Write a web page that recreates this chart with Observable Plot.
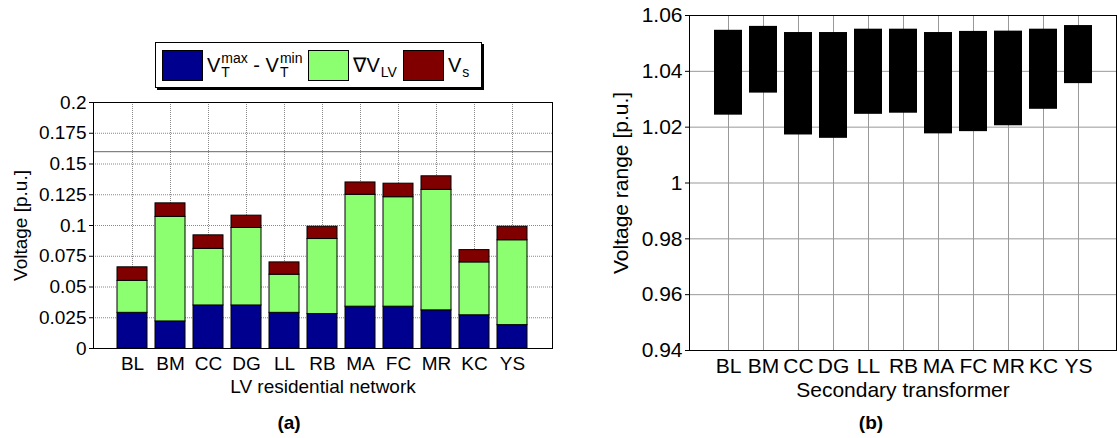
<!DOCTYPE html>
<html><head><meta charset="utf-8">
<script src="https://cdn.jsdelivr.net/npm/d3@7"></script>
<script src="https://cdn.jsdelivr.net/npm/@observablehq/plot@0.6"></script>
<style>
body{margin:0;background:#fff;font-family:"Liberation Sans",Arial,sans-serif;}
#wrap{position:relative;width:1117px;height:438px;overflow:hidden;background:#fff}
#left,#right{position:absolute;top:0}
#left{left:0}
#right{left:560px}
#legend{position:absolute;left:155px;top:42px;height:44px;border:1px solid #000;box-shadow:2px 2px 0 #000;background:#fff;display:flex;align-items:center;padding:0 6px 0 6px;font-size:20px;color:#000;white-space:nowrap}
.sw{display:inline-block;width:39px;height:29px;border:1px solid #000;margin-right:4px}
.it{display:inline-flex;align-items:center;margin-right:6px}
.st{display:inline-flex;flex-direction:column;font-size:14px;line-height:14px;margin-left:1px}
.sub{font-size:14px;position:relative;top:7px;margin-left:1px}
.cap{position:absolute;font-weight:bold;font-size:19px;transform:translateX(-50%)}
</style></head>
<body>
<div id="wrap">
  <div id="left"></div>
  <div id="right"></div>
  <div id="legend"></div>
  <div class="cap" id="capa" style="left:289px;top:412px">(a)</div>
  <div class="cap" id="capb" style="left:871px;top:412px">(b)</div>
</div>
<script>
// ---- data ----
const networks = ["BL","BM","CC","DG","LL","RB","MA","FC","MR","KC","YS"];
// (a) stacked components [p.u.]
const vtRange = [0.029,0.022,0.035,0.035,0.029,0.028,0.034,0.034,0.031,0.027,0.019];
const dvLV    = [0.026,0.085,0.046,0.063,0.031,0.061,0.091,0.089,0.098,0.043,0.069];
const vs      = [0.011,0.011,0.011,0.010,0.010,0.010,0.010,0.011,0.011,0.010,0.011];
const components = ["VT", "dVLV", "Vs"];
const componentColors = ["#00008f", "#8cff70", "#800000"];
const leftTicks = [0,0.025,0.05,0.075,0.1,0.125,0.15,0.175,0.2];
const limitLine = [0.16];
// (b) secondary transformer voltage range [p.u.]
const vMax = [1.0547,1.0561,1.0539,1.0539,1.0551,1.0551,1.0539,1.0543,1.0544,1.0551,1.0564];
const vMin = [1.0243,1.0322,1.0172,1.0160,1.0246,1.0250,1.0176,1.0184,1.0205,1.0264,1.0356];
const rightTicks = [0.94,0.96,0.98,1,1.02,1.04,1.06];

// ---- (a) ----
const rows = [];
networks.forEach((n,i)=>{
  rows.push({network:n, component:"VT", value:vtRange[i]});
  rows.push({network:n, component:"dVLV", value:dvLV[i]});
  rows.push({network:n, component:"Vs", value:vs[i]});
});
const fmt = d => String(+d.toFixed(3));
const left = Plot.plot({
  width:560, height:438,
  marginLeft:93, marginRight:8, marginTop:102, marginBottom:90,
  style:{fontFamily:'"Liberation Sans",Arial,sans-serif', fontSize:"19px", color:"#000", background:"transparent"},
  x:{domain:networks, paddingInner:0.2, paddingOuter:0.6},
  y:{domain:[0,0.2]},
  color:{domain:components, range:componentColors},
  marks:[
    Plot.gridX(networks,{stroke:"#888", strokeOpacity:1, strokeDasharray:"1,1"}),
    Plot.gridY(leftTicks,{stroke:"#888", strokeOpacity:1, strokeDasharray:"1,1"}),
    Plot.ruleY(limitLine,{stroke:"#666", strokeWidth:1}),
    Plot.barY(rows,{x:"network", y:"value", fill:"component", stroke:"#000", strokeWidth:1}),
    Plot.axisX({tickSize:0, tickPadding:8, label:"LV residential network", labelAnchor:"center", labelArrow:"none", labelOffset:44}),
    Plot.axisY({ticks:leftTicks, tickFormat:fmt, tickSize:4, tickPadding:3, label:"Voltage [p.u.]", labelAnchor:"center", labelArrow:"none", labelOffset:80}),
    Plot.frame({stroke:"#000"})
  ]
});
document.getElementById("left").appendChild(left);

// ---- (b) ----
const rb = networks.map((n,i)=>({network:n, lo:vMin[i], hi:vMax[i]}));
const right = Plot.plot({
  width:557, height:438,
  marginLeft:129, marginRight:1, marginTop:15, marginBottom:88,
  style:{fontFamily:'"Liberation Sans",Arial,sans-serif', fontSize:"21px", color:"#000", background:"transparent"},
  x:{domain:networks, paddingInner:0.2, paddingOuter:0.6},
  y:{domain:[0.94,1.06]},
  marks:[
    Plot.gridX(networks,{stroke:"#999", strokeOpacity:1}),
    Plot.gridY(rightTicks,{stroke:"#999", strokeOpacity:1}),
    Plot.barY(rb,{x:"network", y1:"lo", y2:"hi", fill:"#000"}),
    Plot.axisX({tickSize:0, tickPadding:8, label:"Secondary transformer", labelAnchor:"center", labelArrow:"none", labelOffset:46}),
    Plot.axisY({ticks:rightTicks, tickFormat:d=>String(+d.toFixed(2)), tickSize:4, tickPadding:3, label:"Voltage range [p.u.]", labelAnchor:"center", labelArrow:"none", labelOffset:76}),
    Plot.frame({stroke:"#000"})
  ]
});
document.getElementById("right").appendChild(right);

// ---- legend for (a) ----
const legend = document.getElementById("legend");
const entries = [
  {c:componentColors[0], html:'V<span class="st"><span>max</span><span>T</span></span>&nbsp;-&nbsp;V<span class="st"><span>min</span><span>T</span></span>'},
  {c:componentColors[1], html:'\u2207V<span class="sub">LV</span>'},
  {c:componentColors[2], html:'V<span class="sub">s</span>'}
];
entries.forEach(e=>{
  const it=document.createElement("span"); it.className="it";
  it.innerHTML='<span class="sw" style="background:'+e.c+'"></span><span style="display:inline-flex;align-items:center">'+e.html+'</span>';
  legend.appendChild(it);
});
</script>
</body></html>
